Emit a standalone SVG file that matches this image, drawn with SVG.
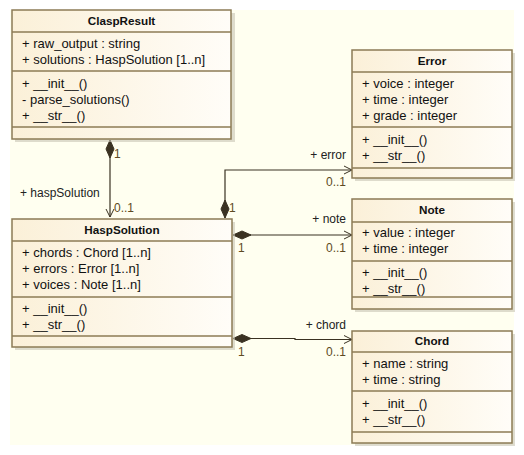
<svg xmlns="http://www.w3.org/2000/svg" width="524" height="455" viewBox="0 0 524 455">
<defs>
<linearGradient id="fillG" x1="0" y1="0" x2="1" y2="0">
<stop offset="0" stop-color="#fbf0d8"/>
<stop offset="1" stop-color="#fffdf8"/>
</linearGradient>
<marker id="open" markerWidth="10" markerHeight="10" refX="9" refY="5" orient="auto" markerUnits="userSpaceOnUse">
<path d="M1,1 L9,5 L1,9" fill="none" stroke="#3a3222" stroke-width="1"/>
</marker>
<marker id="diam" markerWidth="22" markerHeight="10" refX="1" refY="5" orient="auto" markerUnits="userSpaceOnUse">
<path d="M1,5 L10,1 L19,5 L10,9 Z" fill="#3a3222" stroke="#3a3222" stroke-width="1"/>
</marker>
</defs>
<style>
.box{fill:url(#fillG);stroke:#8c7b55;stroke-width:1.5}
.shadow{fill:#c8c4b4;opacity:0.6}
.sep{stroke:#8c7b55;stroke-width:1.5}
.t{font-family:"Liberation Sans",Arial,sans-serif;font-size:13px;fill:#111}
.title{font-family:"Liberation Sans",Arial,sans-serif;font-size:11.7px;font-weight:bold;fill:#111;text-anchor:middle}
.role{font-family:"Liberation Sans",Arial,sans-serif;font-size:12px;fill:#222}
.mult{font-family:"Liberation Sans",Arial,sans-serif;font-size:12px;fill:#5e4a22}
.conn{fill:none;stroke:#3a3222;stroke-width:1.2}
</style>
<rect x="10" y="10" width="504" height="435" fill="#fffff0"/>

<g id="connectors">
<path class="conn" d="M110,140 V217" marker-start="url(#diam)" marker-end="url(#open)"/>
<path class="conn" d="M225,218 V170 H352" marker-start="url(#diam)" marker-end="url(#open)"/>
<path class="conn" d="M233,235 H352" marker-start="url(#diam)" marker-end="url(#open)"/>
<path class="conn" d="M233,338.5 H295 V339.5 H352" marker-start="url(#diam)" marker-end="url(#open)"/>
<text class="mult" x="114" y="158">1</text>
<text class="mult" x="114" y="212">0..1</text>
<text class="role" x="20" y="197">+ haspSolution</text>
<text class="mult" x="229" y="212">1</text>
<text class="role" x="346" y="159" text-anchor="end">+ error</text>
<text class="mult" x="346" y="186" text-anchor="end">0..1</text>
<text class="role" x="346" y="223" text-anchor="end">+ note</text>
<text class="mult" x="346" y="252" text-anchor="end">0..1</text>
<text class="mult" x="238" y="252">1</text>
<text class="role" x="346" y="329" text-anchor="end">+ chord</text>
<text class="mult" x="346" y="356" text-anchor="end">0..1</text>
<text class="mult" x="238" y="356">1</text>
</g>

<g id="ClaspResult">
<rect class="shadow" x="15" y="13" width="220" height="129"/>
<rect class="box" x="12" y="10" width="219" height="129"/>
<line class="sep" x1="12" y1="32" x2="231" y2="32"/>
<line class="sep" x1="12" y1="71" x2="231" y2="71"/>
<line class="sep" x1="12" y1="127" x2="231" y2="127"/>
<text class="title" x="121.5" y="25">ClaspResult</text>
<text class="t" x="22" y="48">+ raw_output : string</text>
<text class="t" x="22" y="64">+ solutions : HaspSolution [1..n]</text>
<text class="t" x="22" y="88">+ __init__()</text>
<text class="t" x="22" y="104">- parse_solutions()</text>
<text class="t" x="22" y="120">+ __str__()</text>
</g>

<g id="HaspSolution">
<rect class="shadow" x="15" y="222" width="220" height="128"/>
<rect class="box" x="12" y="219" width="220" height="128"/>
<line class="sep" x1="12" y1="241" x2="232" y2="241"/>
<line class="sep" x1="12" y1="297" x2="232" y2="297"/>
<line class="sep" x1="12" y1="336" x2="232" y2="336"/>
<text class="title" x="122" y="234">HaspSolution</text>
<text class="t" x="22" y="257">+ chords : Chord [1..n]</text>
<text class="t" x="22" y="273">+ errors : Error [1..n]</text>
<text class="t" x="22" y="289">+ voices : Note [1..n]</text>
<text class="t" x="22" y="313">+ __init__()</text>
<text class="t" x="22" y="329">+ __str__()</text>
</g>

<g id="Error">
<rect class="shadow" x="355" y="53" width="160" height="128"/>
<rect class="box" x="352" y="50" width="160" height="128"/>
<line class="sep" x1="352" y1="72" x2="512" y2="72"/>
<line class="sep" x1="352" y1="127" x2="512" y2="127"/>
<line class="sep" x1="352" y1="168" x2="512" y2="168"/>
<text class="title" x="432" y="65">Error</text>
<text class="t" x="362" y="88">+ voice : integer</text>
<text class="t" x="362" y="104">+ time : integer</text>
<text class="t" x="362" y="120">+ grade : integer</text>
<text class="t" x="362" y="144">+ __init__()</text>
<text class="t" x="362" y="160">+ __str__()</text>
</g>

<g id="Note">
<rect class="shadow" x="355" y="202" width="160" height="110"/>
<rect class="box" x="352" y="199" width="160" height="110"/>
<line class="sep" x1="352" y1="222" x2="512" y2="222"/>
<line class="sep" x1="352" y1="261" x2="512" y2="261"/>
<line class="sep" x1="352" y1="297" x2="512" y2="297"/>
<text class="title" x="432" y="214">Note</text>
<text class="t" x="362" y="237">+ value : integer</text>
<text class="t" x="362" y="253">+ time : integer</text>
<text class="t" x="362" y="277">+ __init__()</text>
<text class="t" x="362" y="293">+ __str__()</text>
</g>

<g id="Chord">
<rect class="shadow" x="355" y="334" width="160" height="112"/>
<rect class="box" x="352" y="331" width="160" height="112"/>
<line class="sep" x1="352" y1="352" x2="512" y2="352"/>
<line class="sep" x1="352" y1="391" x2="512" y2="391"/>
<line class="sep" x1="352" y1="432" x2="512" y2="432"/>
<text class="title" x="432" y="345">Chord</text>
<text class="t" x="362" y="368">+ name : string</text>
<text class="t" x="362" y="384">+ time : string</text>
<text class="t" x="362" y="408">+ __init__()</text>
<text class="t" x="362" y="424">+ __str__()</text>
</g>
</svg>
